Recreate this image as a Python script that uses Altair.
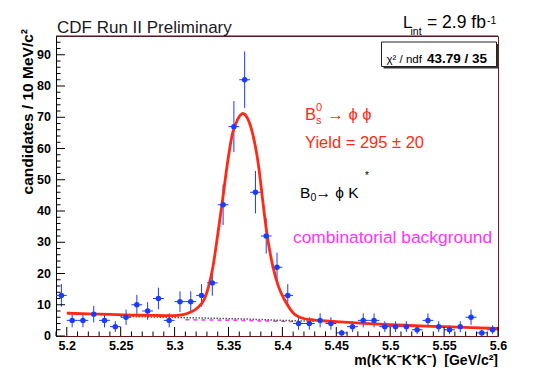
import altair as alt
import numpy as np
import pandas as pd

# ---------------- data ----------------
mass = [5.195, 5.205, 5.215, 5.225, 5.235, 5.245, 5.255, 5.265, 5.275, 5.285,
        5.295, 5.305, 5.315, 5.325, 5.335, 5.345, 5.355, 5.365, 5.375, 5.385,
        5.395, 5.405, 5.415, 5.425, 5.435, 5.445, 5.455, 5.465, 5.475, 5.485,
        5.495, 5.505, 5.515, 5.525, 5.535, 5.545, 5.555, 5.565, 5.575, 5.585,
        5.595]
counts = [13, 5, 5, 7, 5, 3, 6, 10, 8, 12,
          5, 11, 11, 13, 17, 42, 67, 82, 46, 32,
          22, 13, 4, 4, 5, 4, 1, 3, 5, 5,
          3, 3, 3, 2, 5, 3, 2, 3, 6, 1,
          2]
half_bin = 0.005

fit_m = [5.200, 5.220, 5.240, 5.260, 5.280, 5.295, 5.303, 5.309, 5.3145, 5.3208,
         5.3278, 5.3315, 5.3356, 5.3402, 5.3445, 5.3486, 5.3538, 5.3585, 5.3634,
         5.3680, 5.3723, 5.3780, 5.3817, 5.3856, 5.3912, 5.3964, 5.4020, 5.4103,
         5.4196, 5.4300, 5.4500, 5.5000, 5.5500, 5.6000]
fit_n = [7.3, 7.1, 6.9, 6.7, 6.6, 6.5, 6.6, 6.9, 7.6, 8.9,
         11.9, 15.8, 22.2, 32.9, 43.5, 54.2, 64.9, 69.3, 71.2,
         69.4, 64.9, 54.2, 43.5, 32.9, 22.2, 15.8, 11.6, 7.3,
         5.6, 5.1, 4.6, 3.6, 3.0, 2.4]

bkg_m = [5.25, 5.32, 5.37, 5.40, 5.43]
bkg_n = [6.3, 5.8, 5.4, 5.0, 4.7]
comb_m = [5.31, 5.36, 5.41]
comb_n = [5.2, 5.0, 4.6]

x_major = [5.2, 5.25, 5.3, 5.35, 5.4, 5.45, 5.5, 5.55, 5.6]
y_major = [0, 10, 20, 30, 40, 50, 60, 70, 80, 90]
y_labels = ["0", "10", "20", "30", "40", "50", "60", "70", "80", "90"]
x_minor = [v for v in np.round(np.arange(5.19, 5.6001, 0.01), 3)
           if not any(abs(v - M) < 1e-6 for M in x_major)]
y_minor = [v for v in range(2, 96, 2) if v % 10 != 0]

# ---------------- styling ----------------
W, H = 442, 300
FONT = "Liberation Sans"
BLUE = "#1a3cff"
RED = "#ff2a14"
MAG = "#ff33ff"
PHI = "\u03d5"

xs = alt.Scale(domain=[5.19, 5.60], nice=False, zero=False)
ys = alt.Scale(domain=[0, 96], nice=False, zero=True)

xaxis = alt.Axis(values=x_major, format="~g", title=None, grid=False, ticks=False, tickSize=0,
                 labelFont=FONT, labelFontWeight="bold", labelFontSize=12.5, labelColor="black",
                 labelPadding=3.5, domainColor="#6b1515", labelFlush=False, labelOverlap=False)
yaxis = alt.Axis(values=y_major, title=None, grid=False, ticks=False, tickSize=0,
                 labels=False, domainColor="black")


def X(field):
    return alt.X(field, scale=xs, axis=xaxis, title=None)


def Y(field):
    return alt.Y(field, scale=ys, axis=yaxis, title=None)


df = pd.DataFrame({"m": mass, "n": counts})
df["err"] = np.sqrt(df["n"])
df["lo"] = df["n"] - df["err"]
df["hi"] = df["n"] + df["err"]
df["xl"] = df["m"] - half_bin
df["xr"] = df["m"] + half_bin

fit_df = pd.DataFrame({"m": fit_m, "n": fit_n})
bkg_df = pd.DataFrame({"m": bkg_m, "n": bkg_n})
comb_df = pd.DataFrame({"m": comb_m, "n": comb_n})
ylab_df = pd.DataFrame({"v": y_major, "lab": y_labels})

one = pd.DataFrame({"a": [0]})


def txt(s, x, y, size, color="black", weight="normal", align="left", angle=0, font=FONT):
    props = dict(align=align, baseline="alphabetic", fontSize=size, font=font,
                 color=color, fontWeight=weight)
    if angle:
        props["angle"] = angle
    return alt.Chart(pd.DataFrame({"t": [s]})).mark_text(**props).encode(
        x=alt.value(x), y=alt.value(y), text="t:N")


points = alt.Chart(df).mark_circle(size=30, color=BLUE, opacity=1).encode(
    x=X("m:Q"), y=Y("n:Q"))
verr = alt.Chart(df).mark_rule(color=BLUE, strokeWidth=1).encode(
    x=X("m:Q"), y=Y("lo:Q"), y2="hi:Q")
herr = alt.Chart(df).mark_rule(color=BLUE, strokeWidth=1).encode(
    x=X("xl:Q"), x2="xr:Q", y=Y("n:Q"))

comb_line = alt.Chart(comb_df).mark_line(color=MAG, strokeWidth=1.5, strokeDash=[4, 4]).encode(
    x=X("m:Q"), y=Y("n:Q"))
bkg_line = alt.Chart(bkg_df).mark_line(color="black", strokeWidth=1.5, strokeDash=[1, 2]).encode(
    x=X("m:Q"), y=Y("n:Q"))
fit_line = alt.Chart(fit_df).mark_line(color=RED, strokeWidth=2.8, interpolate="monotone").encode(
    x=X("m:Q"), y=Y("n:Q"))

xt_major = alt.Chart(pd.DataFrame({"v": x_major})).mark_rule(color="black").encode(
    x=X("v:Q"), y=alt.value(H), y2=alt.value(H - 9))
xt_minor = alt.Chart(pd.DataFrame({"v": x_minor})).mark_rule(color="black").encode(
    x=X("v:Q"), y=alt.value(H), y2=alt.value(H - 4.5))
yt_major = alt.Chart(pd.DataFrame({"v": y_major})).mark_rule(color="black").encode(
    y=Y("v:Q"), x=alt.value(0), x2=alt.value(9))
yt_minor = alt.Chart(pd.DataFrame({"v": y_minor})).mark_rule(color="black").encode(
    y=Y("v:Q"), x=alt.value(0), x2=alt.value(4.5))
ylabels = alt.Chart(ylab_df).mark_text(
    align="right", baseline="middle", font=FONT, fontWeight="bold", fontSize=12.5,
    color="black").encode(y=Y("v:Q"), x=alt.value(-5), text="lab:N")

top_border = alt.Chart(one).mark_rule(color="#222222").encode(
    x=alt.value(0), x2=alt.value(W), y=alt.value(0))

# chi2 box
shadow = alt.Chart(one).mark_rect(color="#333333").encode(
    x=alt.value(327.5), x2=alt.value(442.5), y=alt.value(8), y2=alt.value(32.5))
box = alt.Chart(one).mark_rect(fill="white", stroke="#222222", strokeWidth=1).encode(
    x=alt.value(325.5), x2=alt.value(440.5), y=alt.value(6), y2=alt.value(30.5))

texts = [
    txt("CDF Run II Preliminary", 1, -3, 17, color="#1a1a1a"),
    txt("L", 347, -7.7, 16.5),
    txt("int", 354.5, -1, 10.5),
    txt("= 2.9 fb", 371, -7.7, 17.5),
    txt("-1", 431, -12.5, 10.5),
    txt("χ² / ndf", 330.5, 27.3, 11.5),
    txt("43.79 / 35", 431, 27.3, 13.5, weight="bold", align="right"),
    txt("B", 249, 84, 16.5, color=RED),
    txt("0", 260, 74.7, 11, color=RED),
    txt("s", 260, 88, 11, color=RED),
    txt(f"→ {PHI} {PHI}", 271.3, 84, 16.5, color=RED),
    txt("Yield = 295 ± 20", 249, 112.3, 16.5, color=RED),
    txt("B", 244, 161.7, 15.5),
    txt("0", 254.5, 165, 10.5),
    txt(f"→ {PHI} K", 259.5, 161.7, 15.5),
    txt("*", 309, 142.5, 10),
    txt("combinatorial background", 237, 206.7, 17.4, color=MAG),
    txt("candidates / 10 MeV/c²", -23.5, -7, 15.5, weight="bold", align="right", angle=270),
    txt("m(K⁺K⁻K⁺K⁻)\u00a0\u00a0[GeV/c²]", W, 329, 14, weight="bold", align="right"),
]

chart = alt.layer(
    comb_line, bkg_line, verr, herr, fit_line, points,
    xt_major, xt_minor, yt_major, yt_minor, ylabels, top_border,
    shadow, box, *texts
).properties(
    width=W, height=H,
    autosize=alt.AutoSizeParams(type="none"),
    padding={"left": 48, "top": 28, "right": 48, "bottom": 31},
).configure_view(stroke="#7a1a1a", strokeWidth=1)

chart.save("out.html", embed_options={"renderer": "svg", "actions": False})
